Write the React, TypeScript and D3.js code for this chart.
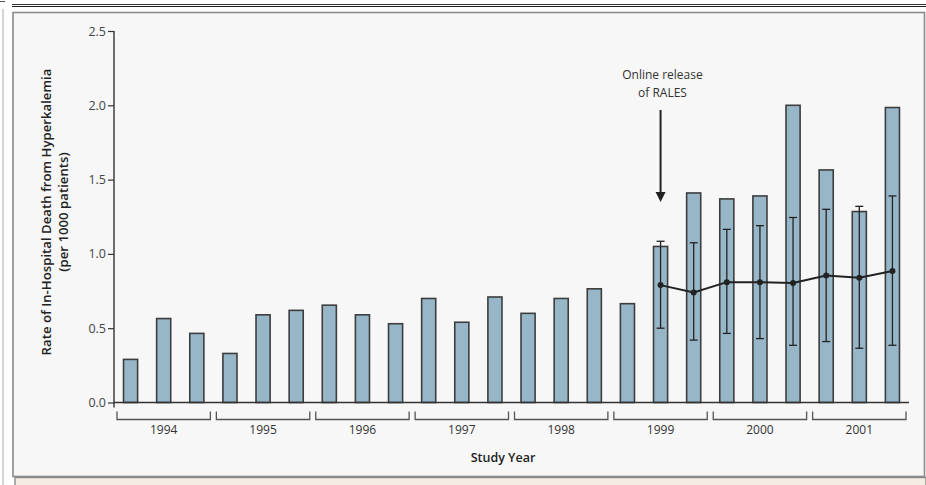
import React, { useEffect, useRef } from 'react';
import * as d3 from 'd3';

const years = ['1994', '1995', '1996', '1997', '1998', '1999', '2000', '2001'];
const periods = ['P1', 'P2', 'P3'];

// observed rate per 1000 patients, three periods per year
const observed = [
  0.29, 0.565, 0.465,
  0.33, 0.59, 0.62,
  0.655, 0.59, 0.53,
  0.70, 0.54, 0.71,
  0.60, 0.70, 0.765,
  0.665, 1.05, 1.41,
  1.37, 1.39, 2.0,
  1.565, 1.285, 1.985,
];

// expected rate after RALES, with 95% interval (periods 1999-P2 to 2001-P3)
const expectedFrom = 16;
const expected = [0.79, 0.74, 0.81, 0.81, 0.805, 0.855, 0.84, 0.885];
const lowerCI = [0.50, 0.42, 0.465, 0.43, 0.385, 0.41, 0.365, 0.385];
const upperCI = [1.085, 1.075, 1.165, 1.19, 1.245, 1.30, 1.32, 1.39];

const yTicks = [0, 0.5, 1.0, 1.5, 2.0, 2.5];

const W = 926;
const H = 485;
const FONT = '"Open Sans", "DejaVu Sans", sans-serif';

export default function App() {
  const yAxisRef = useRef<SVGGElement>(null);

  const categories = years.flatMap((y) => periods.map((p) => `${y}-${p}`));

  const x = d3.scaleBand()
    .domain(categories)
    .range([114, 909])
    .paddingInner(0.575)
    .paddingOuter(0.2875);

  const y = d3.scaleLinear()
    .domain([0, 2.5])
    .range([402.5, 31]);

  const step = x.step();
  const cx = (i: number) => (x(categories[i]) as number) + x.bandwidth() / 2;

  const points = expected.map((v, i) => ({ i: i + expectedFrom, v, lo: lowerCI[i], hi: upperCI[i] }));
  const line = d3.line<{ i: number; v: number }>()
    .x((d) => cx(d.i))
    .y((d) => y(d.v));

  useEffect(() => {
    const g = d3.select(yAxisRef.current);
    g.selectAll('*').remove();
    g.call(
      d3.axisLeft(y)
        .tickValues(yTicks)
        .tickFormat(d3.format('.1f'))
        .tickSize(6)
        .tickPadding(2)
    );
    g.select('.domain').remove();
    g.selectAll('.tick line').attr('stroke', '#333').attr('stroke-width', 1.2);
    g.selectAll('.tick text')
      .attr('fill', '#444')
      .style('font-family', FONT)
      .style('font-size', '12.5px');
  }, []);

  const groupW = step * 3;

  return (
    <svg width={W} height={H} style={{ position: 'absolute', left: 0, top: 0 }}>
      {/* page frame */}
      <rect x={0} y={0} width={W} height={H} fill="#ffffff" />
      <line x1={3} x2={3} y1={9} y2={H} stroke="#aaa" strokeWidth={1} />
      <line x1={0} x2={5} y1={1.5} y2={1.5} stroke="#555" strokeWidth={1} />
      <line x1={12} x2={W} y1={4.5} y2={4.5} stroke="#333" strokeWidth={1} />
      <line x1={12} x2={W} y1={6.5} y2={6.5} stroke="#222" strokeWidth={1.2} />
      <rect x={13} y={12.5} width={911.5} height={464} fill="#f7f7f7" stroke="#8a8a8a" strokeWidth={1.6} />
      <rect x={15} y={477.5} width={W - 15} height={10} fill="#f5ede3" stroke="#8a8a8a" strokeWidth={1.4} />

      {/* bars */}
      {observed.map((v, i) => (
        <rect
          key={categories[i]}
          x={x(categories[i])}
          y={y(v)}
          width={x.bandwidth()}
          height={y(0) - y(v)}
          fill="#97b7c9"
          stroke="#3d3d3d"
          strokeWidth={1.6}
        />
      ))}

      {/* axes */}
      <line x1={114} x2={114} y1={y(2.5)} y2={y(0) + 5} stroke="#333" strokeWidth={1.4} />
      <line x1={114} x2={909} y1={y(0)} y2={y(0)} stroke="#333" strokeWidth={1.5} />
      <g ref={yAxisRef} transform="translate(114,0)" />

      {/* error bars */}
      {points.map((d) => (
        <g key={d.i} stroke="#222" strokeWidth={1.3}>
          <line x1={cx(d.i)} x2={cx(d.i)} y1={y(d.hi)} y2={y(d.lo)} />
          <line x1={cx(d.i) - 4} x2={cx(d.i) + 4} y1={y(d.hi)} y2={y(d.hi)} />
          <line x1={cx(d.i) - 4} x2={cx(d.i) + 4} y1={y(d.lo)} y2={y(d.lo)} />
        </g>
      ))}
      <path d={line(points) || ''} fill="none" stroke="#222" strokeWidth={2} />
      {points.map((d) => (
        <circle key={'p' + d.i} cx={cx(d.i)} cy={y(d.v)} r={3} fill="#222" />
      ))}

      {/* year brackets */}
      {years.map((yr, k) => {
        const x0 = 114 + k * groupW + 3;
        const x1 = 114 + (k + 1) * groupW - 3;
        return (
          <g key={yr}>
            <path
              d={`M${x0},411.5 V419.5 H${x1} V411.5`}
              fill="none"
              stroke="#555"
              strokeWidth={1.3}
            />
            <text
              x={(x0 + x1) / 2}
              y={434}
              textAnchor="middle"
              fontFamily={FONT}
              fontSize={12}
              fill="#333"
            >
              {yr}
            </text>
          </g>
        );
      })}

      <text x={503} y={462} textAnchor="middle" fontFamily={FONT} fontSize={12.5} fontWeight={600} fill="#222">
        Study Year
      </text>

      {/* y label */}
      <g transform="translate(51,212) rotate(-90)" fontFamily={FONT} fontWeight={600} fontSize={13.2} fill="#222">
        <text x={0} y={0} textAnchor="middle">Rate of In-Hospital Death from Hyperkalemia</text>
        <text x={0} y={17} textAnchor="middle">(per 1000 patients)</text>
      </g>

      {/* annotation */}
      <text x={662.5} y={79} textAnchor="middle" fontFamily={FONT} fontSize={12} fill="#333">Online release</text>
      <text x={662.5} y={97} textAnchor="middle" fontFamily={FONT} fontSize={12} fill="#333">of RALES</text>
      <line x1={cx(expectedFrom)} x2={cx(expectedFrom)} y1={110} y2={194} stroke="#222" strokeWidth={2} />
      <path
        d={`M${cx(expectedFrom) - 5},192 L${cx(expectedFrom) + 5},192 L${cx(expectedFrom)},202 Z`}
        fill="#222"
      />
    </svg>
  );
}
